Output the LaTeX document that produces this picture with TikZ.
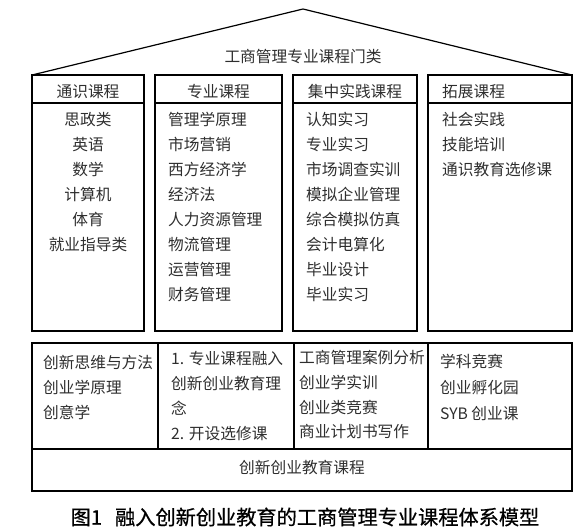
\documentclass[tikz,border=0pt]{standalone}
\usepackage{fontspec}
\newfontfamily\cjk{Noto Sans CJK SC}
\newfontfamily\capfont[FakeBold=0.6]{Noto Sans CJK SC}
\tikzset{
  frame/.style={draw=black, line width=2.6pt},
  sepline/.style={draw=black, line width=2pt},
  roof/.style={draw=black, line width=1.2pt},
  txt/.style={font=\cjk\fontsize{15.7}{18}\selectfont, text=black!82, inner sep=0pt, text height=13.6pt, text depth=1.9pt},
  lefttxt/.style={txt, anchor=west},
  midtxt/.style={txt, anchor=center},
  captxt/.style={font=\capfont\fontsize{20.2}{23}\selectfont, text=black, inner sep=0pt, anchor=center},
}
\begin{document}
\begin{tikzpicture}[x=1pt,y=-1pt]
\useasboundingbox (0,0) rectangle (588,528);
% roof
\coordinate (roofL) at (32,75);
\coordinate (apex) at (303,9);
\coordinate (roofR) at (572,75);
\draw[roof] (roofL) -- (apex) -- (roofR);
\node[midtxt] (title) at (303,57) {工商管理专业课程门类};
% columns
\draw[frame] (32,75) rectangle (144,331);
\draw[sepline] (32,103) -- (144,103);
\draw[frame] (155,75) rectangle (282,331);
\draw[sepline] (155,103) -- (282,103);
\draw[frame] (293,75) rectangle (417,331);
\draw[sepline] (293,103) -- (417,103);
\draw[frame] (428,75) rectangle (572,331);
\draw[sepline] (428,103) -- (572,103);
% headers
\node[midtxt] (h1) at (88,91.5) {通识课程};
\node[midtxt] (h2) at (218.5,91.5) {专业课程};
\node[midtxt] (h3) at (355,91.5) {集中实践课程};
\node[lefttxt] (h4) at (442,91.5) {拓展课程};
% column items
\foreach \t [count=\i from 0] in {思政类,英语,数学,计算机,体育,就业指导类}
  \node[midtxt] (a\i) at (88,119.5+25*\i) {\t};
\foreach \t [count=\i from 0] in {管理学原理,市场营销,西方经济学,经济法,人力资源管理,物流管理,运营管理,财务管理}
  \node[lefttxt] (b\i) at (168,119.5+25*\i) {\t};
\foreach \t [count=\i from 0] in {认知实习,专业实习,市场调查实训,模拟企业管理,综合模拟仿真,会计电算化,毕业设计,毕业实习}
  \node[lefttxt] (c\i) at (306,119.5+25*\i) {\t};
\foreach \t [count=\i from 0] in {社会实践,技能培训,通识教育选修课}
  \node[lefttxt] (d\i) at (442,119.5+25*\i) {\t};
% lower block
\draw[frame] (32,343) rectangle (572,491);
\draw[sepline] (32,449) -- (572,449);
\draw[sepline] (158,343) -- (158,449);
\draw[sepline] (294,343) -- (294,449);
\draw[sepline] (428,343) -- (428,449);
\foreach \t [count=\i from 0] in {创新思维与方法,创业学原理,创意学}
  \node[lefttxt] (e\i) at (43,363+25*\i) {\t};
\foreach \t [count=\i from 0] in {1. 专业课程融入,创新创业教育理,念,2. 开设选修课}
  \node[lefttxt] (f\i) at (171,359+25*\i) {\t};
\foreach \t [count=\i from 0] in {工商管理案例分析,创业学实训,创业类竞赛,商业计划书写作}
  \node[lefttxt] (g\i) at (299,358+24.7*\i) {\t};
\foreach \t [count=\i from 0] in {学科竞赛,创业孵化园,SYB 创业课}
  \node[lefttxt] (k\i) at (440,362+26*\i) {\t};
\node[midtxt] (base) at (302,468) {创新创业教育课程};
% caption
\node[captxt] (cap) at (305,517) {图1\hspace{13pt}融入创新创业教育的工商管理专业课程体系模型};
\end{tikzpicture}
\end{document}
